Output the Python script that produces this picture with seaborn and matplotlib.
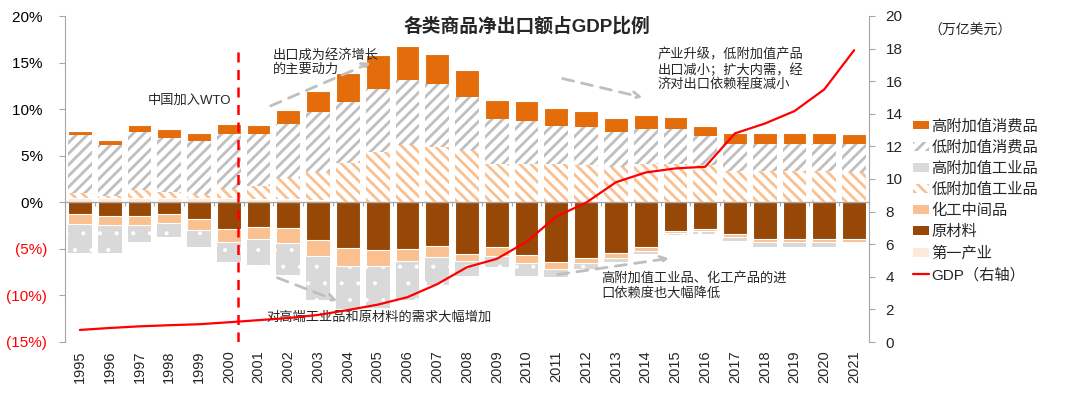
import numpy as np
import matplotlib
matplotlib.use("Agg")
import matplotlib.pyplot as plt
import seaborn as sns
from matplotlib.patches import Patch
from matplotlib.lines import Line2D

# ---------------- data (share of GDP, %) ----------------
years = list(range(1995, 2022))
primary   = [0.50, 0.45, 0.50, 0.50, 0.45, 0.45, 0.40, 0.35, 0.20, 0.05,
             0, 0, 0, 0, 0, 0, 0, 0, 0, 0, 0, 0, 0, 0, 0, 0, 0]
low_ind   = [0.45, 0.23, 0.79, 0.57, 0.48, 0.98, 1.39, 2.26, 3.06, 4.18,
             5.41, 6.13, 5.90, 5.60, 4.15, 4.15, 4.09, 3.98, 3.80, 4.10,
             4.10, 3.98, 3.37, 3.37, 3.37, 3.37, 3.26]
low_cons  = [6.27, 5.45, 6.27, 5.88, 5.63, 5.92, 5.49, 5.78, 6.38, 6.55,
             6.77, 6.97, 6.80, 5.70, 4.75, 4.55, 4.15, 4.12, 3.76, 3.82,
             3.75, 3.15, 2.93, 2.93, 2.93, 2.93, 2.98]
high_cons = [0.43, 0.60, 0.79, 0.94, 0.86, 1.04, 1.02, 1.50, 2.36, 3.12,
             3.62, 3.70, 3.20, 2.90, 2.07, 2.20, 1.83, 1.68, 1.54, 1.43,
             1.32, 1.11, 1.15, 1.19, 1.19, 1.19, 1.04]
raw_mat   = [-1.29, -1.47, -1.47, -1.29, -1.76, -2.86, -2.61, -2.75, -4.04, -4.93,
             -5.11, -4.97, -4.68, -5.54, -4.82, -5.68, -6.36, -6.00, -5.40, -4.75,
             -3.11, -2.86, -3.40, -3.97, -3.97, -3.97, -3.97]
chem      = [-1.04, -0.96, -0.96, -0.93, -1.21, -1.36, -1.36, -1.65, -1.68, -1.90,
             -1.72, -1.32, -1.15, -0.75, -0.90, -0.86, -0.75, -0.54, -0.60, -0.43,
             -0.23, -0.21, -0.28, -0.25, -0.25, -0.25, -0.25]
high_ind  = [-3.14, -3.04, -1.79, -1.46, -1.79, -2.21, -2.75, -3.42, -4.75, -4.67,
             -4.57, -4.18, -3.03, -1.61, -1.25, -1.36, -0.93, -0.57, -0.43, -0.37,
             -0.21, -0.36, -0.47, -0.60, -0.60, -0.60, -0.11]
# GDP, trillion USD (right axis)
gdp = [0.74, 0.86, 0.96, 1.03, 1.09, 1.21, 1.34, 1.47, 1.66, 1.96,
       2.29, 2.75, 3.55, 4.59, 5.10, 6.15, 7.70, 8.55, 9.80, 10.40,
       10.65, 10.75, 12.80, 13.40, 14.17, 15.50, 17.90]

left_ticks = [-15, -10, -5, 0, 5, 10, 15, 20]
left_tick_labels = ['(15%)', '(10%)', '(5%)', '0% ', '5% ', '10% ', '15% ', '20% ']
right_ticks = [0, 2, 4, 6, 8, 10, 12, 14, 16, 18, 20]

series_names = ['高附加值消费品', '低附加值消费品', '高附加值工业品', '低附加值工业品',
                '化工中间品', '原材料', '第一产业', 'GDP（右轴）']

# ---------------- style ----------------
C_HC = '#E46C0A'
C_LC = '#BFBFBF'
C_HI = '#D9D9D9'
C_LI = '#FAC090'
C_CH = '#FAC090'
C_RM = '#974706'
C_PR = '#FDE9D9'
C_AX = '#A6A6A6'

sns.set_theme(style="white")
plt.rcParams['font.family'] = ['Liberation Sans', 'Noto Sans CJK SC', 'DejaVu Sans']
plt.rcParams['hatch.linewidth'] = 2.0
plt.rcParams['axes.unicode_minus'] = False

fig = plt.figure(figsize=(10.8, 3.96), dpi=100)
ax = fig.add_axes([65/1080, 1-342/396, (869-65)/1080, (342-16)/396])

labels = [str(y) for y in years]
p = np.array(primary); li = np.array(low_ind); lc = np.array(low_cons); hc = np.array(high_cons)
rm = np.array(raw_mat); ch = np.array(chem); hi = np.array(high_ind)

cum1 = p
cum2 = cum1 + li
cum3 = cum2 + lc
cum4 = cum3 + hc
neg1 = rm
neg2 = rm + ch
neg3 = neg2 + hi


def bars(vals, color, hatch=None, hatch_color=None, hatch_lw=2.0):
    plt.rcParams['hatch.linewidth'] = hatch_lw
    kw = dict(x=labels, y=vals, color=color, saturation=1, width=0.8,
              errorbar=None, ax=ax)
    if hatch:
        kw.update(hatch=hatch, edgecolor=hatch_color, linewidth=0)
    else:
        kw.update(edgecolor='white', linewidth=0.8)
    sns.barplot(**kw)
    plt.rcParams['hatch.linewidth'] = 2.0

# positive stack (tallest first, then overlay)
bars(cum4, C_HC)
bars(cum3, 'white', '///', C_LC)
bars(cum2, 'white', '\\\\\\', C_LI)
bars(cum1, C_PR)
# negative stack
bars(neg3, C_HI, '.', 'white', hatch_lw=0.5)
bars(neg2, C_CH)
bars(neg1, C_RM)

ax.set_xlim(-0.5, len(years) - 0.5)
ax.set_ylim(-15, 20)
ax.set_xlabel('')
ax.set_ylabel('')
ax.set_yticks(left_ticks)
ax.set_yticklabels(left_tick_labels)
for t, v in zip(ax.get_yticklabels(), left_ticks):
    t.set_color('#FF0000' if v < 0 else 'black')
ax.tick_params(axis='y', left=True, length=4, width=0.8, color=C_AX, pad=9, labelsize=11)
ax.set_xticks(range(len(years)))
ax.set_xticklabels(labels, rotation=90)
ax.tick_params(axis='x', length=0, pad=6, labelsize=10.5)
for s in ['top', 'right', 'bottom']:
    ax.spines[s].set_visible(False)
ax.spines['left'].set_color(C_AX)
ax.spines['left'].set_linewidth(0.8)

# zero line with category boundary ticks
sec = ax.secondary_xaxis(15/35)
sec.set_xticks(np.arange(-0.5, len(years), 1.0))
sec.tick_params(axis='x', which='both', length=3, width=0.8, color=C_AX,
                labelbottom=False, labeltop=False, direction='out')
for s in sec.spines.values():
    s.set_color(C_AX)
    s.set_linewidth(0.9)
sec.set_zorder(3)

# GDP line
ax2 = ax.twinx()
sns.lineplot(x=np.arange(len(years)), y=gdp, ax=ax2, color='#FF0000', linewidth=1.6)
ax2.set_ylim(0, 20)
ax2.set_yticks(right_ticks)
ax2.tick_params(axis='y', right=True, length=4, width=0.8, color=C_AX, pad=8, labelsize=11)
for s in ['top', 'left', 'bottom']:
    ax2.spines[s].set_visible(False)
ax2.spines['right'].set_color(C_AX)
ax2.spines['right'].set_linewidth(0.8)
ax2.set_ylabel('')

# WTO line
wto_x, wto_top = 5.31, 16.8
ax.vlines(wto_x, -15, wto_top, colors='#FF0000', linestyles=(0, (4, 3)), linewidth=1.8, zorder=4)

# annotations
fs = 9.5
ax.text(2.29, 10.86, '中国加入WTO', fontsize=fs, ha='left', va='center')
ax.text(6.48, 15.0, '出口成为经济增长\n的主要动力', fontsize=fs, ha='left', va='center', linespacing=1.15)
ax.text(19.41, 14.24, '产业升级，低附加值产品\n出口减小；扩大内需，经\n济对出口依赖程度减小',
        fontsize=fs, ha='left', va='center', linespacing=1.15)
ax.text(6.28, -12.31, '对高端工业品和原材料的需求大幅增加', fontsize=fs, ha='left', va='center')
ax.text(17.5, -8.97, '高附加值工业品、化工产品的进\n口依赖度也大幅降低', fontsize=fs,
        ha='left', va='center', linespacing=1.15)

arrow_kw = dict(arrowstyle='->', color='#BFBFBF', lw=2, linestyle=(0, (4, 3)), mutation_scale=12)
for start, end in [((6.32, 10.23), (9.85, 15.1)),
                   ((16.12, 13.35), (18.98, 11.2)),
                   ((6.55, -8.0), (8.73, -10.7)),
                   ((15.95, -7.8), (19.88, -5.98))]:
    ax.annotate('', xy=end, xytext=start, arrowprops=arrow_kw, zorder=5)

# title and unit
fig.text(527/1080, 1-26/396, '各类商品净出口额占GDP比例', ha='center', va='center',
         fontsize=13.5, fontweight='bold')
fig.text(928/1080, 1-31/396, '（万亿美元）', ha='left', va='center', fontsize=10)

# legend
handles = [
    Patch(facecolor=C_HC, edgecolor='none'),
    Patch(facecolor='white', edgecolor=C_LC, hatch='///', linewidth=0),
    Patch(facecolor=C_HI, edgecolor='none'),
    Patch(facecolor='white', edgecolor=C_LI, hatch='\\\\\\', linewidth=0),
    Patch(facecolor=C_CH, edgecolor='none'),
    Patch(facecolor=C_RM, edgecolor='none'),
    Patch(facecolor=C_PR, edgecolor='none'),
    Line2D([0], [0], color='#FF0000', lw=1.6),
]
fig.legend(handles, series_names, loc='upper left', bbox_to_anchor=(913/1080, 1-119/396),
           frameon=False, fontsize=11, handlelength=1.05, handleheight=0.5,
           handletextpad=0.15, labelspacing=0.45, borderpad=0, borderaxespad=0)

fig.savefig('out.png', dpi=100)
